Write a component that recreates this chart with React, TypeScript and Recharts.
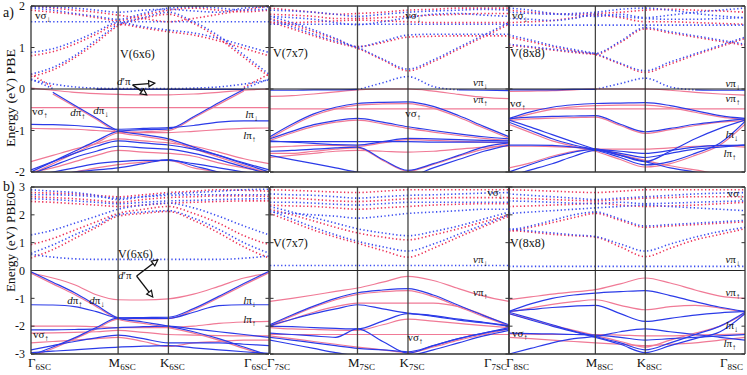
import { LineChart, Line, XAxis, YAxis, ReferenceLine } from "recharts";

type Band = (number | null)[];
type Note = [string, string, string, number, number];
type Arrow = [number, number, number, number];

const kPath = [0, 0.217, 0.433, 0.65, 0.866, 1.116, 1.366, 1.616, 1.866, 2.116, 2.366];
const K_END = 2.366;
const symTicks = [0, 0.866, 1.366, 2.366];
const symNames = ["Γ", "M", "K", "Γ"];
const ticksPBE = [-2, -1, 0, 1, 2];
const ticksPBE0 = [-3, -2, -1, 0, 1, 2, 3];

// a) PBE, V(6x6)
const pbe6CondBlue: Band[] = [
  [1.62, 1.62, 1.62, 1.62, 1.62, 1.62, 1.62, 1.62, 1.62, 1.62, 1.62],
  [0.88, 0.97, 1.15, 1.38, 1.6, 1.5, 1.42, 1.35, 1.22, 1.05, 0.88],
  [0.36, 0.52, 0.8, 1.18, 1.55, 1.72, 1.85, 1.62, 1.28, 0.82, 0.36],
  [0.24, 0.01, null, null, null, null, null, null, null, 0.01, 0.24],
  [0.22, 0.12, 0.05, 0.02, 0.01, 0.01, 0.01, 0.02, 0.05, 0.12, 0.22],
  [1.95, 1.9, 1.82, 1.75, 1.68, 1.82, 1.95, 1.98, 1.95, 1.9, 1.92],
  [1.98, 1.97, 1.95, 1.9, 1.85, 1.9, 1.92, 1.88, 1.85, 1.95, 1.98],
];
const pbe6CondRed: Band[] = [
  [0.8, 0.9, 1.08, 1.32, 1.56, 1.47, 1.38, 1.3, 1.16, 0.98, 0.8],
  [0.3, 0.46, 0.75, 1.12, 1.52, 1.7, 1.8, 1.58, 1.22, 0.76, 0.3],
  [0.36, 0.04, null, null, null, null, null, null, null, 0.04, 0.36],
  [1.9, 1.85, 1.8, 1.72, 1.65, 1.78, 1.9, 1.95, 1.9, 1.86, 1.9],
  [2.0, 1.95, 1.9, 1.85, 1.78, 1.7, 1.62, 1.7, 1.8, 1.9, 2.0],
];
const pbe6ValBlue: Band[] = [
  [null, null, null, -0.01, -0.01, -0.01, -0.01, -0.01, -0.01, -0.01, null],
  [null, -0.08, -0.39, -0.7, -1.0, -1.1, -1.2, -1.4, -1.6, -1.8, -2.0],
  [-2.0, -1.75, -1.5, -1.25, -1.02, -0.98, -0.96, -0.67, -0.33, -0.01, null],
  [-0.85, -0.86, -0.88, -0.92, -0.97, -0.95, -0.93, -0.88, -0.8, -0.77, -0.77],
  [-1.95, -1.75, -1.55, -1.38, -1.25, -1.3, -1.35, -1.45, -1.6, -1.78, -1.95],
  [-2.05, -1.85, -1.65, -1.5, -1.38, -1.42, -1.45, -1.55, -1.7, -1.88, -2.05],
  [-2.1, -2.0, -1.9, -1.8, -1.75, -1.72, -1.72, -1.8, -1.9, -2.0, -2.1],
  [-2.2, -2.1, -2.0, -1.95, -1.9, -1.8, -1.7, -1.85, -2.0, -2.1, -2.2],
];
const pbe6ValRed: Band[] = [
  [0.02, -0.03, -0.08, -0.11, -0.13, -0.14, -0.14, -0.12, -0.08, -0.03, 0.0],
  [-0.45, -0.45, -0.45, -0.45, -0.45, -0.45, -0.45, -0.45, -0.45, -0.45, -0.45],
  [-0.95, -0.96, -0.97, -1.0, -1.03, -1.05, -1.05, -1.02, -0.98, -0.95, -0.94],
  [null, -0.12, -0.42, -0.73, -1.04, -1.14, -1.24, -1.44, -1.64, -1.84, -2.04],
  [-2.05, -1.8, -1.55, -1.3, -1.06, -1.03, -1.0, -0.7, -0.37, -0.05, null],
  [-1.75, -1.6, -1.45, -1.32, -1.2, -1.25, -1.3, -1.38, -1.52, -1.68, -1.8],
  [-2.0, -1.9, -1.75, -1.6, -1.48, -1.52, -1.55, -1.62, -1.78, -1.9, -2.0],
  [-2.2, -2.1, -2.0, -1.9, -1.82, -1.76, -1.72, -1.9, -2.0, -2.1, -2.2],
];

// a) PBE, V(7x7)
const pbe7CondBlue: Band[] = [
  [1.56, 1.56, 1.56, 1.56, 1.56, 1.56, 1.56, 1.56, 1.56, 1.56, 1.56],
  [1.68, 1.5, 1.32, 1.15, 1.0, 0.72, 0.48, 0.7, 1.0, 1.3, 1.6],
  [1.75, 1.6, 1.42, 1.22, 1.02, 1.15, 1.3, 1.32, 1.32, 1.32, 1.32],
  [null, null, null, null, -0.02, 0.15, 0.3, 0.06, -0.02, null, null],
  [1.9, 1.88, 1.85, 1.8, 1.75, 1.8, 1.85, 1.88, 1.9, 1.92, 1.9],
  [1.75, 1.72, 1.68, 1.6, 1.55, 1.62, 1.72, 1.8, 1.82, 1.78, 1.75],
];
const pbe7CondRed: Band[] = [
  [1.62, 1.45, 1.28, 1.12, 0.98, 0.7, 0.44, 0.66, 0.96, 1.26, 1.56],
  [1.7, 1.55, 1.38, 1.2, 1.02, 1.12, 1.25, 1.27, 1.28, 1.28, 1.28],
  [1.95, 1.9, 1.85, 1.8, 1.82, 1.85, 1.9, 1.92, 1.95, 1.95, 1.95],
  [1.8, 1.78, 1.75, 1.7, 1.7, 1.72, 1.75, 1.78, 1.8, 1.82, 1.82],
  [1.6, 1.6, 1.62, 1.64, 1.66, 1.64, 1.62, 1.6, 1.6, 1.6, 1.6],
];
const pbe7ValBlue: Band[] = [
  [-0.03, -0.03, -0.02, -0.02, -0.01, null, null, null, -0.02, -0.03, -0.04],
  [-1.15, -0.85, -0.6, -0.44, -0.35, -0.32, -0.31, -0.42, -0.64, -0.9, -1.15],
  [-1.2, -1.02, -0.86, -0.76, -0.71, -0.8, -0.91, -1.0, -1.08, -1.15, -1.2],
  [-1.25, -1.28, -1.31, -1.34, -1.35, -1.27, -1.19, -1.2, -1.22, -1.24, -1.25],
  [-1.27, -1.27, -1.27, -1.27, -1.27, -1.27, -1.27, -1.28, -1.28, -1.28, -1.28],
  [-1.5, -1.48, -1.45, -1.42, -1.4, -1.7, -1.96, -1.8, -1.6, -1.4, -1.3],
  [-1.6, -1.7, -1.8, -1.9, -2.0, -2.05, -2.1, -1.9, -1.7, -1.5, -1.35],
];
const pbe7ValRed: Band[] = [
  [-0.18, -0.16, -0.12, -0.07, -0.02, 0.0, 0.0, -0.05, -0.13, -0.2, -0.23],
  [-0.48, -0.48, -0.48, -0.48, -0.48, -0.48, -0.48, -0.48, -0.48, -0.48, -0.48],
  [-1.19, -0.89, -0.64, -0.48, -0.39, -0.36, -0.35, -0.46, -0.68, -0.94, -1.19],
  [-1.24, -1.06, -0.9, -0.8, -0.75, -0.84, -0.95, -1.04, -1.12, -1.19, -1.24],
  [-1.4, -1.38, -1.36, -1.36, -1.38, -1.3, -1.22, -1.24, -1.26, -1.28, -1.3],
  [-1.55, -1.55, -1.5, -1.45, -1.42, -1.72, -1.98, -1.82, -1.62, -1.45, -1.33],
  [-1.65, -1.6, -1.55, -1.5, -1.48, -1.5, -1.52, -1.5, -1.45, -1.4, -1.38],
];

// a) PBE, V(8x8)
const pbe8CondBlue: Band[] = [
  [1.54, 1.54, 1.54, 1.54, 1.54, 1.54, 1.54, 1.54, 1.54, 1.54, 1.54],
  [1.3, 1.18, 1.05, 0.95, 0.85, 0.62, 0.44, 0.65, 0.85, 1.05, 1.25],
  [1.08, 1.02, 0.96, 0.9, 0.86, 1.15, 1.48, 1.38, 1.28, 1.18, 1.08],
  [null, null, null, null, -0.01, 0.13, 0.26, 0.05, -0.02, null, null],
  [1.95, 1.9, 1.82, 1.78, 1.75, 1.8, 1.72, 1.78, 1.85, 1.9, 1.95],
  [1.85, 1.82, 1.8, 1.82, 1.85, 1.92, 1.95, 1.9, 1.82, 1.76, 1.72],
  [1.7, 1.68, 1.65, 1.7, 1.8, 1.75, 1.7, 1.68, 1.68, 1.7, 1.72],
];
const pbe8CondRed: Band[] = [
  [1.25, 1.14, 1.02, 0.92, 0.83, 0.6, 0.4, 0.6, 0.82, 1.02, 1.22],
  [1.05, 1.0, 0.94, 0.88, 0.84, 1.12, 1.45, 1.35, 1.25, 1.15, 1.05],
  [1.9, 1.85, 1.82, 1.8, 1.82, 1.85, 1.9, 1.92, 1.9, 1.88, 1.85],
  [1.6, 1.62, 1.65, 1.72, 1.78, 1.72, 1.62, 1.62, 1.6, 1.58, 1.56],
];
const pbe8ValBlue: Band[] = [
  [-0.02, -0.02, -0.02, -0.01, -0.01, null, null, null, -0.02, -0.03, -0.03],
  [-0.71, -0.55, -0.44, -0.38, -0.35, -0.34, -0.33, -0.4, -0.52, -0.64, -0.71],
  [-0.72, -0.68, -0.66, -0.65, -0.64, -0.85, -1.03, -0.95, -0.85, -0.78, -0.72],
  [-0.75, -0.92, -1.1, -1.28, -1.45, -1.6, -1.75, -1.5, -1.2, -0.95, -0.75],
  [-0.8, -1.0, -1.2, -1.35, -1.47, -1.65, -1.83, -1.75, -1.55, -1.3, -0.78],
  [-1.35, -1.35, -1.36, -1.4, -1.45, -1.5, -1.55, -1.48, -1.4, -1.36, -1.35],
  [-2.0, -1.82, -1.65, -1.52, -1.45, -1.6, -1.75, -1.9, -2.0, -2.1, -2.2],
  [-2.1, -1.95, -1.8, -1.62, -1.48, -1.55, -1.65, -1.55, -1.45, -1.4, -1.35],
];
const pbe8ValRed: Band[] = [
  [-0.06, -0.05, -0.04, -0.02, 0.0, 0.0, 0.0, -0.03, -0.08, -0.12, -0.15],
  [-0.48, -0.48, -0.48, -0.48, -0.48, -0.48, -0.48, -0.48, -0.48, -0.48, -0.48],
  [-0.74, -0.6, -0.49, -0.43, -0.4, -0.39, -0.39, -0.45, -0.56, -0.67, -0.74],
  [-0.76, -0.72, -0.7, -0.69, -0.68, -0.88, -1.07, -0.98, -0.88, -0.8, -0.76],
  [-1.38, -1.38, -1.39, -1.41, -1.45, -1.45, -1.45, -1.42, -1.38, -1.37, -1.4],
  [-0.85, -1.05, -1.25, -1.38, -1.5, -1.7, -1.88, -1.8, -1.6, -1.35, -0.85],
  [-1.9, -1.78, -1.62, -1.5, -1.45, -1.58, -1.72, -1.85, -1.95, -2.05, -2.1],
];

// b) PBE0, V(6x6)
const pbe06CondBlue: Band[] = [
  [0.58, 0.48, 0.42, 0.4, 0.4, 0.4, 0.4, 0.4, 0.4, 0.44, 0.52],
  [0.62, 0.92, 1.28, 1.62, 2.0, 2.1, 2.15, 1.88, 1.48, 1.0, 0.62],
  [1.28, 1.45, 1.7, 1.95, 2.2, 2.35, 2.42, 2.25, 1.95, 1.6, 1.28],
  [2.72, 2.72, 2.7, 2.65, 2.6, 2.65, 2.7, 2.72, 2.72, 2.72, 2.72],
  [2.58, 2.55, 2.5, 2.45, 2.4, 2.45, 2.5, 2.52, 2.55, 2.57, 2.58],
  [2.9, 2.85, 2.8, 2.7, 2.55, 2.65, 2.75, 2.8, 2.85, 2.9, 2.92],
];
const pbe06CondRed: Band[] = [
  [0.45, 0.75, 1.15, 1.55, 1.95, 2.05, 2.12, 1.8, 1.35, 0.85, 0.45],
  [0.93, 1.15, 1.45, 1.75, 2.05, 2.2, 2.3, 2.05, 1.7, 1.25, 0.93],
  [2.65, 2.62, 2.58, 2.52, 2.45, 2.55, 2.62, 2.65, 2.68, 2.68, 2.66],
  [2.8, 2.78, 2.75, 2.7, 2.65, 2.72, 2.8, 2.85, 2.9, 2.88, 2.85],
  [2.48, 2.45, 2.4, 2.35, 2.3, 2.35, 2.42, 2.45, 2.48, 2.5, 2.5],
];
const pbe06ValBlue: Band[] = [
  [-0.05, -0.42, -0.8, -1.25, -1.7, -1.85, -2.0, -2.2, -2.45, -2.75, -3.05],
  [-3.05, -2.75, -2.42, -2.05, -1.7, -1.69, -1.68, -1.37, -0.93, -0.47, -0.03],
  [-1.23, -1.24, -1.3, -1.48, -1.7, -1.72, -1.72, -1.5, -1.26, -1.23, -1.23],
  [-2.13, -2.13, -2.12, -2.1, -2.05, -2.02, -2.0, -2.1, -2.2, -2.3, -2.4],
  [-2.85, -2.7, -2.55, -2.42, -2.32, -2.45, -2.6, -2.6, -2.6, -2.65, -2.7],
  [-2.95, -2.9, -2.85, -2.8, -2.75, -2.72, -2.7, -2.78, -2.85, -2.92, -2.98],
];
const pbe06ValRed: Band[] = [
  [-0.09, -0.27, -0.51, -0.87, -1.05, -1.06, -1.02, -0.85, -0.57, -0.27, -0.09],
  [-0.1, -0.48, -0.86, -1.3, -1.75, -1.9, -2.05, -2.25, -2.5, -2.8, -3.1],
  [-3.1, -2.8, -2.46, -2.1, -1.75, -1.74, -1.73, -1.42, -0.98, -0.52, -0.08],
  [-2.0, -2.0, -2.0, -2.02, -2.05, -2.05, -2.05, -2.0, -1.9, -1.85, -1.83],
  [-2.25, -2.24, -2.22, -2.2, -2.15, -2.22, -2.3, -2.32, -2.34, -2.35, -2.35],
  [-2.6, -2.55, -2.5, -2.45, -2.4, -2.55, -2.73, -2.6, -2.55, -2.5, -2.5],
];

// b) PBE0, V(7x7)
const pbe07CondBlue: Band[] = [
  [0.18, 0.18, 0.18, 0.18, 0.18, 0.18, 0.18, 0.18, 0.18, 0.18, 0.18],
  [2.15, 1.85, 1.55, 1.28, 1.05, 0.85, 0.7, 0.95, 1.3, 1.65, 2.0],
  [2.3, 2.1, 1.9, 1.7, 1.5, 1.35, 1.25, 1.4, 1.6, 1.85, 2.1],
  [2.45, 2.45, 2.42, 2.38, 2.35, 2.4, 2.45, 2.45, 2.45, 2.45, 2.45],
  [2.1, 2.05, 2.0, 1.95, 1.88, 1.95, 2.05, 2.1, 2.15, 2.2, 2.2],
  [2.75, 2.72, 2.7, 2.65, 2.6, 2.65, 2.7, 2.72, 2.75, 2.78, 2.8],
];
const pbe07CondRed: Band[] = [
  [2.05, 1.75, 1.45, 1.2, 0.98, 0.72, 0.48, 0.8, 1.2, 1.58, 1.95],
  [2.2, 2.0, 1.78, 1.55, 1.35, 1.2, 1.1, 1.28, 1.5, 1.75, 2.0],
  [2.35, 2.32, 2.3, 2.25, 2.2, 2.25, 2.3, 2.35, 2.38, 2.4, 2.4],
  [2.6, 2.6, 2.55, 2.5, 2.48, 2.52, 2.58, 2.6, 2.62, 2.62, 2.62],
  [2.9, 2.88, 2.85, 2.82, 2.8, 2.85, 2.9, 2.9, 2.9, 2.9, 2.9],
];
const pbe07ValBlue: Band[] = [
  [-1.95, -1.6, -1.28, -1.0, -0.8, -0.7, -0.65, -0.88, -1.25, -1.62, -1.95],
  [-1.98, -1.75, -1.55, -1.38, -1.23, -1.38, -1.53, -1.62, -1.75, -1.86, -1.98],
  [-2.0, -2.02, -2.05, -2.08, -2.1, -1.82, -1.55, -1.65, -1.78, -1.88, -2.0],
  [-2.25, -2.3, -2.35, -2.4, -2.1, -2.55, -2.97, -2.7, -2.45, -2.25, -2.05],
  [-2.4, -2.5, -2.6, -2.7, -2.8, -2.85, -2.92, -2.7, -2.45, -2.25, -2.1],
  [-2.5, -2.65, -2.8, -2.95, -3.05, -3.05, -3.05, -2.85, -2.6, -2.35, -2.15],
];
const pbe07ValRed: Band[] = [
  [-1.11, -1.0, -0.88, -0.75, -0.63, -0.42, -0.21, -0.36, -0.65, -0.92, -1.11],
  [-1.98, -1.64, -1.32, -1.05, -0.86, -0.76, -0.72, -0.94, -1.3, -1.66, -1.98],
  [-2.0, -1.75, -1.5, -1.3, -1.17, -1.17, -1.17, -1.17, -1.3, -1.6, -2.0],
  [-2.3, -2.3, -2.3, -2.3, -2.3, -2.3, -2.3, -2.3, -2.3, -2.3, -2.3],
  [-2.05, -2.1, -2.12, -2.14, -2.15, -1.95, -1.75, -1.82, -1.9, -1.98, -2.05],
  [-2.35, -2.45, -2.55, -2.65, -2.75, -2.85, -2.95, -2.75, -2.5, -2.3, -2.1],
];

// b) PBE0, V(8x8)
const pbe08CondBlue: Band[] = [
  [0.15, 0.15, 0.15, 0.15, 0.15, 0.15, 0.15, 0.15, 0.15, 0.15, 0.15],
  [1.5, 1.42, 1.35, 1.28, 1.22, 0.95, 0.7, 0.95, 1.2, 1.4, 1.55],
  [1.45, 1.6, 1.8, 2.0, 2.1, 1.85, 1.6, 1.65, 1.7, 1.75, 1.8],
  [2.5, 2.48, 2.45, 2.42, 2.4, 2.45, 2.4, 2.42, 2.45, 2.48, 2.5],
  [2.05, 2.1, 2.15, 2.2, 2.25, 2.3, 2.35, 2.3, 2.25, 2.2, 2.15],
  [2.75, 2.7, 2.65, 2.6, 2.55, 2.6, 2.65, 2.7, 2.75, 2.78, 2.8],
];
const pbe08CondRed: Band[] = [
  [1.45, 1.38, 1.3, 1.25, 1.2, 0.85, 0.5, 0.8, 1.1, 1.3, 1.5],
  [1.4, 1.55, 1.72, 1.9, 2.05, 1.8, 1.55, 1.6, 1.65, 1.7, 1.75],
  [2.3, 2.32, 2.35, 2.38, 2.42, 2.35, 2.3, 2.32, 2.35, 2.4, 2.45],
  [2.6, 2.58, 2.55, 2.52, 2.5, 2.55, 2.6, 2.62, 2.65, 2.65, 2.65],
  [2.9, 2.88, 2.85, 2.82, 2.8, 2.85, 2.9, 2.9, 2.9, 2.9, 2.9],
];
const pbe08ValBlue: Band[] = [
  [-1.47, -1.2, -1.0, -0.88, -0.81, -0.76, -0.72, -0.9, -1.12, -1.32, -1.47],
  [-1.47, -1.4, -1.33, -1.28, -1.25, -1.55, -1.83, -1.72, -1.6, -1.52, -1.47],
  [-1.5, -1.72, -1.95, -2.18, -2.37, -2.6, -2.85, -2.6, -2.3, -2.0, -1.5],
  [-3.0, -2.8, -2.6, -2.45, -2.37, -2.2, -2.1, -2.2, -2.3, -2.4, -2.5],
  [-2.25, -2.27, -2.28, -2.3, -2.32, -2.4, -2.5, -2.45, -2.4, -2.35, -2.3],
  [-1.55, -1.78, -2.0, -2.2, -2.4, -2.65, -2.95, -2.7, -2.45, -2.2, -1.55],
];
const pbe08ValRed: Band[] = [
  [-1.05, -0.95, -0.85, -0.77, -0.69, -0.48, -0.27, -0.45, -0.7, -0.92, -1.0],
  [-1.5, -1.35, -1.22, -1.12, -1.05, -1.25, -1.41, -1.3, -1.25, -1.35, -1.5],
  [-2.28, -2.29, -2.3, -2.3, -2.3, -2.32, -2.35, -2.35, -2.32, -2.3, -2.28],
  [-1.55, -1.75, -1.97, -2.15, -2.33, -2.55, -2.75, -2.5, -2.25, -2.0, -1.55],
  [-2.4, -2.45, -2.5, -2.55, -2.6, -2.65, -2.7, -2.65, -2.6, -2.5, -2.4],
];

// labels: [italic part, upright part, subscript, k, E]
const pbe6Notes: Note[] = [
  ["", "vσ", "↓", 0.04, 1.69], ["", "V(6x6)", "", 0.885, 0.75], ["d", "′π", "", 0.855, 0.1],
  ["", "vσ", "↑", 0.01, -0.63], ["d", "π", "↑", 0.39, -0.65], ["d", "π", "↓", 0.62, -0.6],
  ["l", "π", "↓", 2.13, -0.7], ["l", "π", "↑", 2.11, -1.2],
];
const pbe7Notes: Note[] = [
  ["", "vσ", "↓", 1.34, 1.69], ["", "V(7x7)", "", 0.03, 0.77], ["v", "π", "↓", 2.01, 0.07],
  ["v", "π", "↑", 2.01, -0.34], ["", "vσ", "↑", 1.34, -0.67],
];
const pbe8Notes: Note[] = [
  ["", "vσ", "↓", 0.03, 1.69], ["", "V(8x8)", "", 0.01, 0.77], ["v", "π", "↓", 2.17, 0.05],
  ["v", "π", "↑", 2.17, -0.31], ["", "vσ", "↑", 0.01, -0.43], ["l", "π", "↓", 2.17, -1.18],
  ["l", "π", "↑", 2.15, -1.64],
];
const pbe06Notes: Note[] = [
  ["", "V(6x6)", "", 0.865, 0.45], ["d", "′π", "", 0.865, -0.31], ["d", "π", "↑", 0.36, -1.2],
  ["d", "π", "↓", 0.58, -1.2], ["", "vσ", "↑", 0.02, -2.43], ["l", "π", "↓", 2.11, -1.2],
  ["l", "π", "↑", 2.11, -1.89],
];
const pbe07Notes: Note[] = [
  ["", "vσ", "↓", 2.15, 2.68], ["", "V(7x7)", "", 0.03, 0.84], ["v", "π", "↓", 2.01, 0.27],
  ["v", "π", "↑", 2.01, -0.92], ["", "vσ", "↑", 1.36, -2.53],
];
const pbe08Notes: Note[] = [
  ["", "vσ", "↓", 2.19, 2.64], ["", "V(8x8)", "", 0.01, 0.84], ["v", "π", "↓", 2.17, 0.27],
  ["v", "π", "↑", 2.17, -0.92], ["l", "π", "↓", 2.17, -2.1], ["l", "π", "↑", 2.15, -2.75],
  ["", "vσ", "↑", 0.03, -2.39],
];
const pbe6Arrows: Arrow[] = [[1.01, 0.1, 1.23, 0.14], [1.01, 0.1, 1.15, -0.14]];
const pbe06Arrows: Arrow[] = [[1.05, -0.2, 1.26, 0.38], [1.05, -0.2, 1.21, -0.95]];

const SERIF = "Liberation Serif, Times New Roman, Times, serif";
const BLUE = "#2b3be8";
const PINK = "#f07a96";
const DOT_BLUE = "#3a4cf0";
const DOT_RED = "#ec2f55";

const cols = [{ x: 31, w: 238 }, { x: 270, w: 239 }, { x: 509, w: 236 }];
const rowsGeo = [
  { y: 6, h: 166, lo: -2, hi: 2, ticks: ticksPBE },
  { y: 187, h: 167, lo: -3, hi: 3, ticks: ticksPBE0 },
];

const panels = [
  { row: 0, col: 0, sub: "6SC", cb: pbe6CondBlue, cr: pbe6CondRed, vb: pbe6ValBlue, vr: pbe6ValRed, notes: pbe6Notes, arrows: pbe6Arrows },
  { row: 0, col: 1, sub: "7SC", cb: pbe7CondBlue, cr: pbe7CondRed, vb: pbe7ValBlue, vr: pbe7ValRed, notes: pbe7Notes, arrows: [] as Arrow[] },
  { row: 0, col: 2, sub: "8SC", cb: pbe8CondBlue, cr: pbe8CondRed, vb: pbe8ValBlue, vr: pbe8ValRed, notes: pbe8Notes, arrows: [] as Arrow[] },
  { row: 1, col: 0, sub: "6SC", cb: pbe06CondBlue, cr: pbe06CondRed, vb: pbe06ValBlue, vr: pbe06ValRed, notes: pbe06Notes, arrows: pbe06Arrows },
  { row: 1, col: 1, sub: "7SC", cb: pbe07CondBlue, cr: pbe07CondRed, vb: pbe07ValBlue, vr: pbe07ValRed, notes: pbe07Notes, arrows: [] as Arrow[] },
  { row: 1, col: 2, sub: "8SC", cb: pbe08CondBlue, cr: pbe08CondRed, vb: pbe08ValBlue, vr: pbe08ValRed, notes: pbe08Notes, arrows: [] as Arrow[] },
];

const MT = 8;
const MB = 8;
const MR = 3;
const ML = 6;
const YW = 25;
const XH = 22;

function KTick(props: any) {
  const { x, y, payload, sub } = props;
  const i = symTicks.indexOf(payload.value);
  const anchor = i === 0 ? "start" : i === 3 ? "end" : "middle";
  const dx = i === 0 ? -3 : i === 3 ? -2 : 4;
  return (
    <text x={x + dx} y={y + 13} textAnchor={anchor} fontFamily={SERIF} fill="#111">
      <tspan fontSize={13}>{symNames[i]}</tspan>
      <tspan fontSize={9} dy={3}>{sub}</tspan>
    </text>
  );
}

function Panel({ p }: { p: (typeof panels)[number] }) {
  const g = rowsGeo[p.row];
  const c = cols[p.col];
  const showY = p.col === 0;
  const showX = p.row === 1;
  const yw = showY ? YW : 0;
  const data = kPath.map((k, i) => {
    const r: Record<string, number | null> = { k };
    p.cr.forEach((b, j) => (r["cr" + j] = b[i]));
    p.cb.forEach((b, j) => (r["cb" + j] = b[i]));
    p.vr.forEach((b, j) => (r["vr" + j] = b[i]));
    p.vb.forEach((b, j) => (r["vb" + j] = b[i]));
    return r;
  });
  const tickLen = 0.035;
  const line = (key: string, color: string, dotted: boolean) => (
    <Line
      key={key}
      dataKey={key}
      type="monotone"
      stroke={color}
      strokeWidth={dotted ? 1.6 : 1.2}
      strokeDasharray={dotted ? "1.3 2.4" : undefined}
      dot={false}
      activeDot={false}
      connectNulls={false}
      isAnimationActive={false}
    />
  );
  return (
    <div style={{ position: "absolute", left: c.x - yw - ML, top: g.y - MT }}>
      <LineChart
        width={c.w + yw + MR + ML}
        height={g.h + MT + MB + (showX ? XH : 0)}
        data={data}
        margin={{ top: MT, right: MR, bottom: MB, left: ML }}
      >
        <XAxis
          type="number"
          dataKey="k"
          domain={[0, K_END]}
          ticks={symTicks}
          allowDataOverflow
          hide={!showX}
          height={XH}
          axisLine={false}
          tickLine={false}
          tickSize={0}
          tickMargin={0}
          interval={0}
          tick={<KTick sub={p.sub} />}
        />
        <YAxis
          type="number"
          domain={[g.lo, g.hi]}
          ticks={g.ticks}
          allowDataOverflow
          hide={!showY}
          width={YW}
          axisLine={false}
          tickLine={false}
          tickSize={0}
          tickMargin={6}
          interval={0}
          tick={{ fontFamily: SERIF, fontSize: 12, fill: "#111" }}
        />
        {p.cr.map((_, j) => line("cr" + j, DOT_RED, true))}
        {p.cb.map((_, j) => line("cb" + j, DOT_BLUE, true))}
        {p.vr.map((_, j) => line("vr" + j, PINK, false))}
        {p.vb.map((_, j) => line("vb" + j, BLUE, false))}
        <ReferenceLine x={symTicks[1]} stroke="#444" strokeWidth={1.3} />
        <ReferenceLine x={symTicks[2]} stroke="#444" strokeWidth={1.3} />
        <ReferenceLine y={0} stroke="#222" strokeWidth={1.2} />
        {g.ticks.map((t) => (
          <ReferenceLine key={"tl" + t} segment={[{ x: 0, y: t }, { x: tickLen, y: t }]} stroke="#333" />
        ))}
        {g.ticks.map((t) => (
          <ReferenceLine key={"tr" + t} segment={[{ x: K_END - tickLen, y: t }, { x: K_END, y: t }]} stroke="#333" />
        ))}
        <ReferenceLine x={0} stroke="#333" strokeWidth={1.3} />
        <ReferenceLine x={K_END} stroke="#333" strokeWidth={1.3} />
        <ReferenceLine y={g.lo} stroke="#333" strokeWidth={1.3} />
        <ReferenceLine y={g.hi} stroke="#333" strokeWidth={1.3} />
      </LineChart>
    </div>
  );
}

function toPx(p: (typeof panels)[number], k: number, e: number) {
  const g = rowsGeo[p.row];
  const c = cols[p.col];
  return [c.x + (k / K_END) * c.w, g.y + ((g.hi - e) / (g.hi - g.lo)) * g.h];
}

function Overlay() {
  return (
    <svg width={747} height={375} style={{ position: "absolute", left: 0, top: 0, pointerEvents: "none" }}>
      <text x={3} y={17} fontFamily={SERIF} fontSize={14} fill="#111">a)</text>
      <text x={3} y={191} fontFamily={SERIF} fontSize={14} fill="#111">b)</text>
      <text
        transform="translate(15,98) rotate(-90)"
        textAnchor="middle"
        fontFamily={SERIF}
        fontSize={12}
        textLength={98}
        lengthAdjust="spacingAndGlyphs"
        fill="#111"
      >
        Energy (eV)  PBE
      </text>
      <text
        transform="translate(15,242) rotate(-90)"
        textAnchor="middle"
        fontFamily={SERIF}
        fontSize={12}
        textLength={100}
        lengthAdjust="spacingAndGlyphs"
        fill="#111"
      >
        Energy (eV)  PBE0
      </text>
      {panels.map((p, pi) => (
        <g key={pi}>
          {p.notes.map((n, ni) => {
            const [x, y] = toPx(p, n[3], n[4]);
            const big = n[1].startsWith("V(");
            return (
              <text key={ni} x={x} y={y} fontFamily={SERIF} fontSize={big ? 12 : 11} fill="#111">
                {n[0] && <tspan fontStyle="italic">{n[0]}</tspan>}
                <tspan>{n[1]}</tspan>
                {n[2] && <tspan fontSize={8} dy={3}>{n[2]}</tspan>}
              </text>
            );
          })}
          {p.arrows.map((a, ai) => {
            const [x1, y1] = toPx(p, a[0], a[1]);
            const [x2, y2] = toPx(p, a[2], a[3]);
            const ang = Math.atan2(y2 - y1, x2 - x1);
            const hl = 6;
            const hw = 3;
            const bx = x2 - hl * Math.cos(ang);
            const by = y2 - hl * Math.sin(ang);
            const pts = [
              [x2, y2],
              [bx - hw * Math.sin(ang), by + hw * Math.cos(ang)],
              [bx + hw * Math.sin(ang), by - hw * Math.cos(ang)],
            ]
              .map((q) => q.join(","))
              .join(" ");
            return (
              <g key={"a" + ai}>
                <line x1={x1} y1={y1} x2={bx} y2={by} stroke="#111" strokeWidth={1.4} />
                <polygon points={pts} fill="none" stroke="#111" strokeWidth={1.2} />
              </g>
            );
          })}
        </g>
      ))}
    </svg>
  );
}

export default function App() {
  return (
    <div style={{ position: "absolute", left: 0, top: 0, width: 747, height: 375, background: "#fff", overflow: "hidden" }}>
      {panels.map((p, i) => (
        <Panel key={i} p={p} />
      ))}
      <Overlay />
    </div>
  );
}
